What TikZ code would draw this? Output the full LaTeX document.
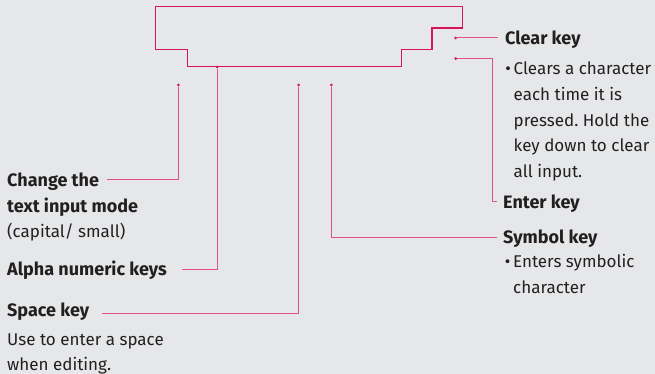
\documentclass[tikz,border=0pt]{standalone}
\usepackage{fontspec}
\setmainfont{Fira Sans}
\frenchspacing
\usetikzlibrary{positioning}
\definecolor{keyred}{RGB}{214,20,90}
\definecolor{leadpink}{RGB}{226,82,132}
\definecolor{bggray}{RGB}{230,231,233}
\definecolor{txtgray}{RGB}{35,31,32}

\begin{document}
\begin{tikzpicture}[x=1pt,y=-1pt,
    outline/.style={draw=keyred,line width=1.3pt},
    leader/.style={draw=leadpink,line width=1pt},
    tip/.style={circle,fill=keyred,inner sep=0pt,minimum size=3pt},
    head/.style={anchor=base west,inner sep=0pt,text=txtgray,
      font=\fontsize{18}{26}\selectfont\bfseries},
    body/.style={anchor=base west,inner sep=0pt,text=txtgray,align=left,
      font=\fontsize{17}{25.5}\selectfont}]

  \fill[bggray] (0,0) rectangle (655,374);
  \useasboundingbox (0,0) rectangle (655,374);

  % keypad outline
  \draw[outline] (155.7,6.7) -- (462.3,6.7) -- (462.3,28) -- (432,28)
    -- (432,49.3) -- (401.7,49.3) -- (401.7,66.7) -- (187.3,66.7)
    -- (187.3,49.3) -- (155.7,49.3) -- cycle;

  % pointer tips
  \node[tip] (clrtip) at (455.7,38) {};
  \node[tip] (enttip) at (455.7,58.7) {};
  \node[tip] (alphatip) at (217,67) {};
  \node[tip] (modetip) at (178.3,85) {};
  \node[tip] (spctip) at (298.7,85) {};
  \node[tip] (symtip) at (331.3,85) {};

  % labels, right side (multi-line nodes sit on their last baseline)
  \node[head] (clear) at (505,45) {Clear key};
  \node[body] (cleartxt) at (513.5,177) {\llap{\textbullet\,}Clears a character\\each time it is\\pressed. Hold the\\key down to clear\\all input.};
  \node[head] (enter) at (503,208) {Enter key};
  \node[head] (symbol) at (503,243) {Symbol key};
  \node[body] (symtxt) at (513,293) {\llap{\textbullet\,}Enters symbolic\\character};

  % labels, left side
  \node[head] (mode) at (7,186) {Change the};
  \node[head] (mode2) at (7,212.7) {text input mode};
  \node[body] (modetxt) at (7,237) {(capital/ small)};
  \node[head] (alpha) at (7,275) {Alpha numeric keys};
  \node[head] (space) at (7,316.7) {Space key};
  \node[body] (spacetxt) at (7,370.7) {Use to enter a space\\when editing.};

  % leaders
  \draw[leader] (clrtip) -- ([xshift=-7pt]clrtip -| clear.west);
  \draw[leader] (enttip) -| ([shift={(-10.5,-6.5)}]enter.base west)
    -- ([shift={(-6,-6.5)}]enter.base west);
  \draw[leader] (symtip) |- ([shift={(-6,-5.7)}]symbol.base west);
  \draw[leader] (modetip) |- ([shift={(8,-6.7)}]mode.base east);
  \draw[leader] (alphatip) |- ([shift={(15,-6)}]alpha.base east);
  \draw[leader] (spctip) |- ([shift={(13,-3.4)}]space.base east);
\end{tikzpicture}
\end{document}
